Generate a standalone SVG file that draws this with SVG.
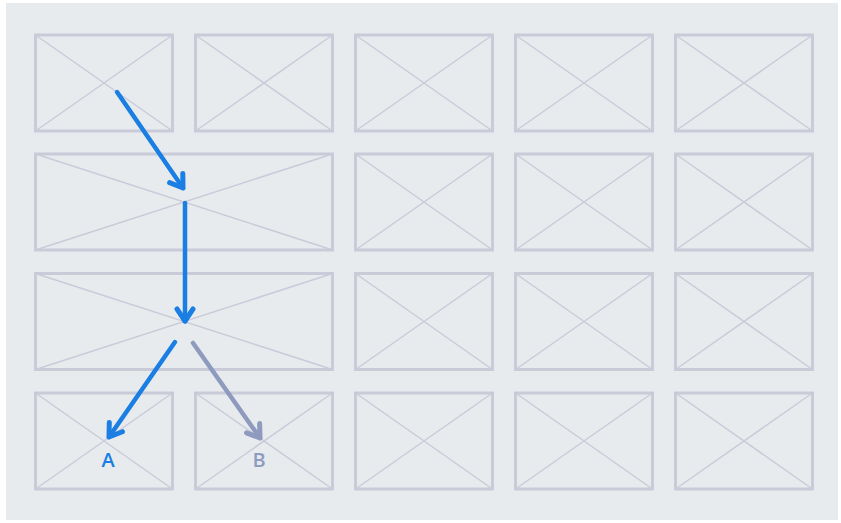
<svg xmlns="http://www.w3.org/2000/svg" width="841" height="523" viewBox="0 0 841 523">
<defs>
<style>
.box{fill:none;stroke:#c9cbd9;stroke-width:3}
.x{stroke:#c9cbd9;stroke-width:1.5}
.a{fill:none;stroke:#1a7ee3;stroke-width:4.5;stroke-linecap:round}
.g{fill:none;stroke:#8e9bbf;stroke-width:4.5;stroke-linecap:round}
.lbl{font-family:"Open Sans","DejaVu Sans",sans-serif;font-size:20px;font-weight:600;text-anchor:middle}
</style>
<marker id="mb" viewBox="0 0 24 24" refX="17" refY="12" markerWidth="24" markerHeight="24" markerUnits="userSpaceOnUse" orient="auto">
<polyline points="5,4 17,12 5,20" fill="none" stroke="#1a7ee3" stroke-width="5" stroke-linecap="round" stroke-linejoin="round"/>
</marker>
<marker id="mg" viewBox="0 0 24 24" refX="17" refY="12" markerWidth="24" markerHeight="24" markerUnits="userSpaceOnUse" orient="auto">
<polyline points="5,4 17,12 5,20" fill="none" stroke="#8e9bbf" stroke-width="5" stroke-linecap="round" stroke-linejoin="round"/>
</marker>
</defs>
<rect x="0" y="0" width="841" height="523" fill="#ffffff"/>
<rect x="6" y="3" width="832" height="517" fill="#e8ebee"/>
<g id="r1c1"><rect class="box" x="35.5" y="35" width="137" height="96"/><path class="x" d="M35.5 35L172.5 131M172.5 35L35.5 131"/></g>
<g id="r1c2"><rect class="box" x="195.5" y="35" width="137" height="96"/><path class="x" d="M195.5 35L332.5 131M332.5 35L195.5 131"/></g>
<g id="r1c3"><rect class="box" x="355.5" y="35" width="137" height="96"/><path class="x" d="M355.5 35L492.5 131M492.5 35L355.5 131"/></g>
<g id="r1c4"><rect class="box" x="515.5" y="35" width="137" height="96"/><path class="x" d="M515.5 35L652.5 131M652.5 35L515.5 131"/></g>
<g id="r1c5"><rect class="box" x="675.5" y="35" width="137" height="96"/><path class="x" d="M675.5 35L812.5 131M812.5 35L675.5 131"/></g>
<g id="r2wide"><rect class="box" x="35.5" y="154" width="297" height="96"/><path class="x" d="M35.5 154L332.5 250M332.5 154L35.5 250"/></g>
<g id="r2c3"><rect class="box" x="355.5" y="154" width="137" height="96"/><path class="x" d="M355.5 154L492.5 250M492.5 154L355.5 250"/></g>
<g id="r2c4"><rect class="box" x="515.5" y="154" width="137" height="96"/><path class="x" d="M515.5 154L652.5 250M652.5 154L515.5 250"/></g>
<g id="r2c5"><rect class="box" x="675.5" y="154" width="137" height="96"/><path class="x" d="M675.5 154L812.5 250M812.5 154L675.5 250"/></g>
<g id="r3wide"><rect class="box" x="35.5" y="273.5" width="297" height="96"/><path class="x" d="M35.5 273.5L332.5 369.5M332.5 273.5L35.5 369.5"/></g>
<g id="r3c3"><rect class="box" x="355.5" y="273.5" width="137" height="96"/><path class="x" d="M355.5 273.5L492.5 369.5M492.5 273.5L355.5 369.5"/></g>
<g id="r3c4"><rect class="box" x="515.5" y="273.5" width="137" height="96"/><path class="x" d="M515.5 273.5L652.5 369.5M652.5 273.5L515.5 369.5"/></g>
<g id="r3c5"><rect class="box" x="675.5" y="273.5" width="137" height="96"/><path class="x" d="M675.5 273.5L812.5 369.5M812.5 273.5L675.5 369.5"/></g>
<g id="r4c1"><rect class="box" x="35.5" y="393" width="137" height="96"/><path class="x" d="M35.5 393L172.5 489M172.5 393L35.5 489"/></g>
<g id="r4c2"><rect class="box" x="195.5" y="393" width="137" height="96"/><path class="x" d="M195.5 393L332.5 489M332.5 393L195.5 489"/></g>
<g id="r4c3"><rect class="box" x="355.5" y="393" width="137" height="96"/><path class="x" d="M355.5 393L492.5 489M492.5 393L355.5 489"/></g>
<g id="r4c4"><rect class="box" x="515.5" y="393" width="137" height="96"/><path class="x" d="M515.5 393L652.5 489M652.5 393L515.5 489"/></g>
<g id="r4c5"><rect class="box" x="675.5" y="393" width="137" height="96"/><path class="x" d="M675.5 393L812.5 489M812.5 393L675.5 489"/></g>
<g id="connectors">
<line class="a" x1="117" y1="92" x2="183" y2="188" marker-end="url(#mb)"/>
<line class="a" x1="185" y1="203" x2="185" y2="321" marker-end="url(#mb)"/>
<circle cx="185" cy="321" r="2.5" fill="#1a7ee3"/>
<line class="a" x1="175" y1="342" x2="109" y2="437" marker-end="url(#mb)"/>
<line class="g" x1="193" y1="343" x2="260" y2="438" marker-end="url(#mg)"/>
</g>
<text class="lbl" x="108" y="467" fill="#1a7ee3">A</text>
<text class="lbl" x="259" y="467" fill="#8e9bbf">B</text>
</svg>
